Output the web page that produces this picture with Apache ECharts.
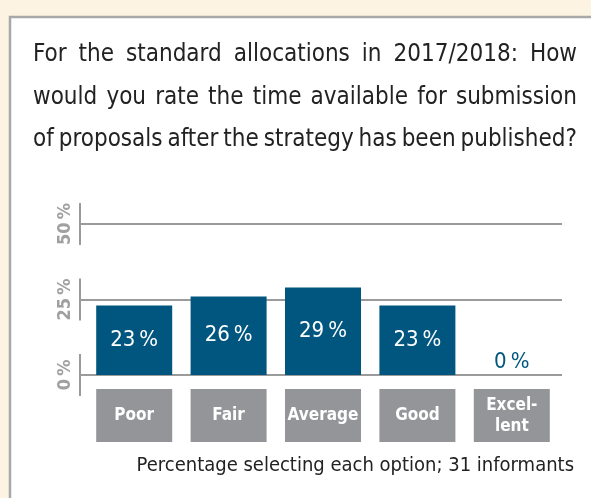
<!DOCTYPE html>
<html>
<head>
<meta charset="utf-8">
<script src="https://cdn.jsdelivr.net/npm/echarts@6/dist/echarts.min.js"></script>
<style>
  html, body { margin: 0; padding: 0; background: #fcf3e2; }
  #chart { width: 591px; height: 498px; }
</style>
</head>
<body>
<div id="chart"></div>
<script>
const categories = ['Poor', 'Fair', 'Average', 'Good', 'Excel-\nlent'];
const shares = [23, 26, 29, 23, 0];
const yTicks = [0, 25, 50];
const titleLines = [
  'For the standard allocations in 2017/2018: How',
  'would you rate the time available for submission',
  'of proposals after the strategy has been published?'
];
const footnote = 'Percentage selecting each option; 31 informants';

const BLUE = '#00567f';
const GREY = '#939598';
const LINE = '#9b9b9b';
const FONT = '"DejaVu Sans Condensed"';

// justify title lines between x0 and x1 by spreading words
const ctx = document.createElement('canvas').getContext('2d');
function justify(line, y, x0, x1, size) {
  ctx.font = size + 'px ' + FONT;
  const words = line.split(' ');
  const widths = words.map(w => ctx.measureText(w).width);
  const total = widths.reduce((a, b) => a + b, 0);
  const gap = (x1 - x0 - total) / (words.length - 1);
  let x = x0;
  return words.map((w, i) => {
    const el = {
      type: 'text', x: x, y: y,
      style: { text: w, font: size + 'px ' + FONT, fill: '#222', textVerticalAlign: 'middle' }
    };
    x += widths[i] + gap;
    return el;
  });
}

const chart = echarts.init(document.getElementById('chart'));

let graphics = [{
  type: 'rect', z: -10,
  shape: { x: 10, y: 17, width: 600, height: 500 },
  style: { fill: '#fff', stroke: '#a8a8a8', lineWidth: 2.5 }
}];
titleLines.forEach((l, i) => {
  graphics = graphics.concat(justify(l, 55 + i * 42.5, 33, 577, 24));
});
graphics.push({
  type: 'text', x: 574, y: 466,
  style: { text: footnote, font: '20px ' + FONT, fill: '#222', textAlign: 'right', textVerticalAlign: 'middle' }
});

chart.setOption({
  animation: false,
  backgroundColor: '#fcf3e2',
  graphic: graphics,
  grid: [
    { left: 80, right: 29, top: 224, bottom: 123 },
    { left: 87, right: 32, top: 224, bottom: 123 }
  ],
  xAxis: [
    { gridIndex: 0, type: 'value', min: 0, max: 1, show: false },
    {
      gridIndex: 1, type: 'category',
      data: categories.map(c => c.indexOf('\n') >= 0
        ? { value: c, textStyle: { padding: [6, 0, 5, 0] } }
        : c),
      axisLine: { show: false }, axisTick: { show: false },
      axisLabel: {
        interval: 0, margin: 14,
        color: '#fff', fontFamily: FONT, fontWeight: 'bold', fontSize: 17,
        lineHeight: 21, width: 76, align: 'center',
        backgroundColor: GREY, padding: [16, 0, 16, 0]
      }
    }
  ],
  yAxis: [
    {
      gridIndex: 0, type: 'value', min: 0, max: 50, interval: 25,
      axisLine: { show: false }, axisTick: { show: false },
      splitLine: { lineStyle: { color: LINE, width: 2 } },
      axisLabel: {
        rotate: 90, margin: 6, color: '#a0a0a0', fontFamily: FONT,
        fontWeight: 'bold', fontSize: 18,
        formatter: v => v + '\u202f%'
      }
    },
    { gridIndex: 1, type: 'value', min: 0, max: 50, interval: 25, show: false }
  ],
  series: [
    {
      type: 'custom', xAxisIndex: 0, yAxisIndex: 0,
      data: yTicks.map(t => [0, t]),
      renderItem: (params, api) => {
        const p = api.coord([api.value(0), api.value(1)]);
        return {
          type: 'line',
          shape: { x1: p[0], y1: p[1] - 21, x2: p[0], y2: p[1] + 21 },
          style: { stroke: LINE, lineWidth: 2 }
        };
      },
      silent: true
    },
    {
      type: 'bar', xAxisIndex: 1, yAxisIndex: 1,
      barWidth: 76,
      data: shares.map(v => ({
        value: v,
        label: v === 0
          ? { position: 'top', color: BLUE, distance: 2 }
          : { position: 'inside', color: '#fff' }
      })),
      itemStyle: { color: BLUE },
      label: {
        show: true, fontFamily: FONT, fontSize: 22,
        formatter: p => p.value + '\u202f%'
      }
    }
  ]
});
</script>
</body>
</html>
